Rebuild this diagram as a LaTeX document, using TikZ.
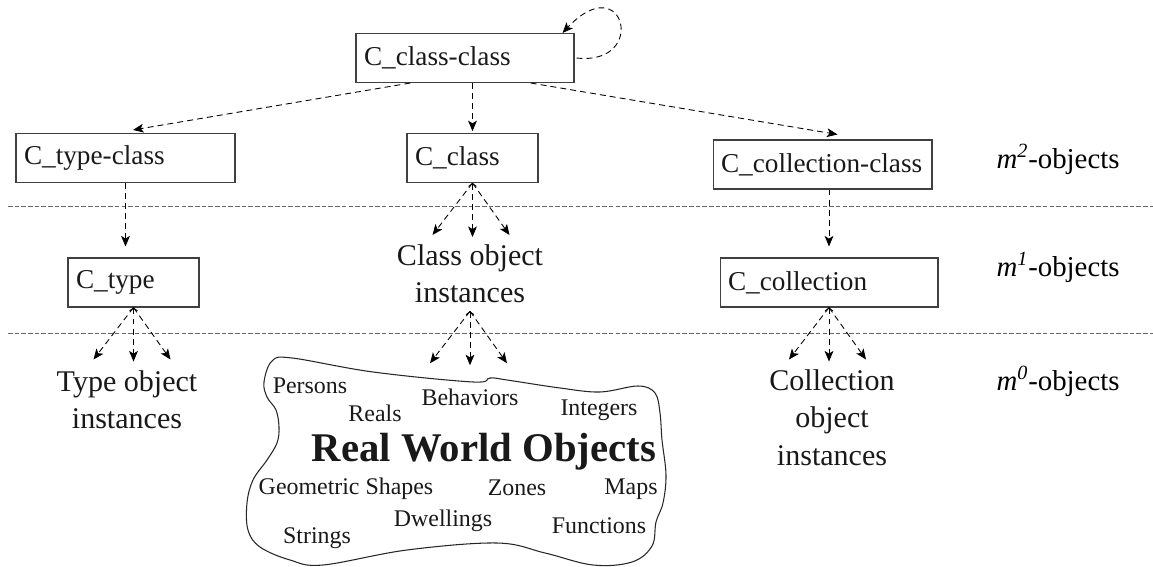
\documentclass[tikz,border=0pt]{standalone}
\usepackage{fontspec}
\setmainfont{Liberation Serif}
\usetikzlibrary{arrows.meta, calc}
\newcommand{\boxsize}{\fontsize{15.5}{18}\selectfont}
\newcommand{\instsize}{\fontsize{17.1}{21.3}\selectfont}
\newcommand{\levelsize}{\fontsize{16.4}{19}\selectfont}
\newcommand{\wordsize}{\fontsize{13.6}{16}\selectfont}
\newcommand{\rwosize}{\fontsize{23.2}{27}\selectfont}

\begin{document}
\begin{tikzpicture}[x=0.02cm, y=-0.02cm,
    objbox/.style={draw=black!75, line width=0.6pt, minimum height=0.98cm, inner xsep=0.16cm, align=left, font=\boxsize, text=black!90},
    link/.style={line width=0.5pt, dash pattern=on 3.4pt off 2.3pt, -{Stealth[length=6pt,width=5pt,inset=1.5pt]}},
    fanmid/.style={link, arrows={Straight Barb[length=1.6pt,width=4.5pt]-Stealth[length=6pt,width=5pt,inset=1.5pt]}},
    level/.style={line width=0.5pt, black!60, dash pattern=on 2.6pt off 1.2pt},
    inst/.style={align=center, font=\instsize, inner sep=0.16cm, text=black!90},
    word/.style={anchor=base, inner sep=0pt, font=\wordsize, text=black!90}]
      \useasboundingbox (0,0) rectangle (1153,567);

      % level separators
      \draw[level] (8,206) -- (1153,206);
      \draw[level] (8,333) -- (1153,333);

      % class boxes
      \node[objbox, text width=4.04cm] (ccc) at (465,58) {C\_class-class};
      \node[objbox, text width=4.06cm] (tc) at (125.5,158) {C\_type-class};
      \node[objbox, text width=2.30cm] (cls) at (472.5,158) {C\_class};
      \node[objbox, text width=4.06cm] (colc) at (822.5,164.5) {C\_collection-class};
      \node[objbox, text width=2.30cm] (typ) at (133.5,282.5) {C\_type};
      \node[objbox, text width=4.04cm] (col) at (829,282.5) {C\_collection};

      % instance labels
      \node[inst, anchor=north] (typinst) at (127,362) {Type object\\instances};
      \node[inst, anchor=north] (clsinst) at (470,236) {Class object\\instances};
      \node[inst, anchor=north] (colinst) at (832,361) {Collection\\object\\instances};

      % level labels
      \node[anchor=base, font=\levelsize] (m2) at (1058,169) {\textit{m}\textsuperscript{\textit{2}}-objects};
      \node[anchor=base, font=\levelsize] (m1) at (1058,277) {\textit{m}\textsuperscript{\textit{1}}-objects};
      \node[anchor=base, font=\levelsize] (m0) at (1058,391) {\textit{m}\textsuperscript{\textit{0}}-objects};

      % arrows between boxes
      \draw[link] ($(ccc.south west)!0.25!(ccc.south east)$) -- ([xshift=0.15cm,yshift=0.06cm]tc.north);
      \draw[link, shorten >=1pt] (cls.north |- ccc.south) -- (cls.north);
      \draw[link] ($(ccc.south west)!0.8!(ccc.south east)$) -- ([xshift=0.3cm,yshift=0.1cm]colc.north);
      \draw[link, shorten >=0.22cm] (tc.south) -- (tc.south |- typ.north);
      \draw[link, shorten >=0.22cm] (col.north |- colc.south) -- (col.north);
      \draw[link] ([xshift=0.04cm]ccc.east) .. controls +(72,8) and +(62,-66) .. ([xshift=-0.24cm]ccc.north east);

      % fans of instances
      \foreach \apex/\fan in {typ.south/a, cls.south/b, clsinst.south/c, col.south/d} {
        \coordinate (\fan L) at ($(\apex)+(-40,52)$);
        \coordinate (\fan M) at ($(\apex)+(0,54)$);
        \coordinate (\fan R) at ($(\apex)+(37,52)$);
        \draw[link] (\apex) -- (\fan L);
        \draw[fanmid] (\apex) -- (\fan M);
        \draw[link] (\apex) -- (\fan R);
      }

      % real world objects
      \draw[line width=0.6pt, black!85] plot[smooth cycle, tension=0.6] coordinates {
        (272,361) (292,358) (373,372) (473,382) (490,378) (507,380) (560,388) (600,392)
        (638,386) (655,393) (660,413) (662,440) (666,475) (663,503) (656,522) (652,546)
        (632,562) (593,565) (545,553) (497,543) (407,550) (323,565) (290,560) (260,547)
        (248,530) (247,503) (253,480) (267,460) (277,443) (279,427) (276,410) (267,397) (264,382)};
      \node[word] (persons) at (310,394) {Persons};
      \node[word] (reals) at (375,421) {Reals};
      \node[word] (behav) at (470,406) {Behaviors};
      \node[word] (integers) at (599,416) {Integers};
      \node[anchor=base, inner sep=0pt, font=\rwosize\bfseries, text=black!90] (rwo) at (484,461) {Real World Objects};
      \node[word] (geom) at (346,495) {Geometric Shapes};
      \node[word] (zones) at (517,496) {Zones};
      \node[word] (maps) at (631,495) {Maps};
      \node[word] (dwell) at (443,526) {Dwellings};
      \node[word] (funcs) at (599,533) {Functions};
      \node[word] (strings) at (317,543) {Strings};
\end{tikzpicture}
\end{document}
